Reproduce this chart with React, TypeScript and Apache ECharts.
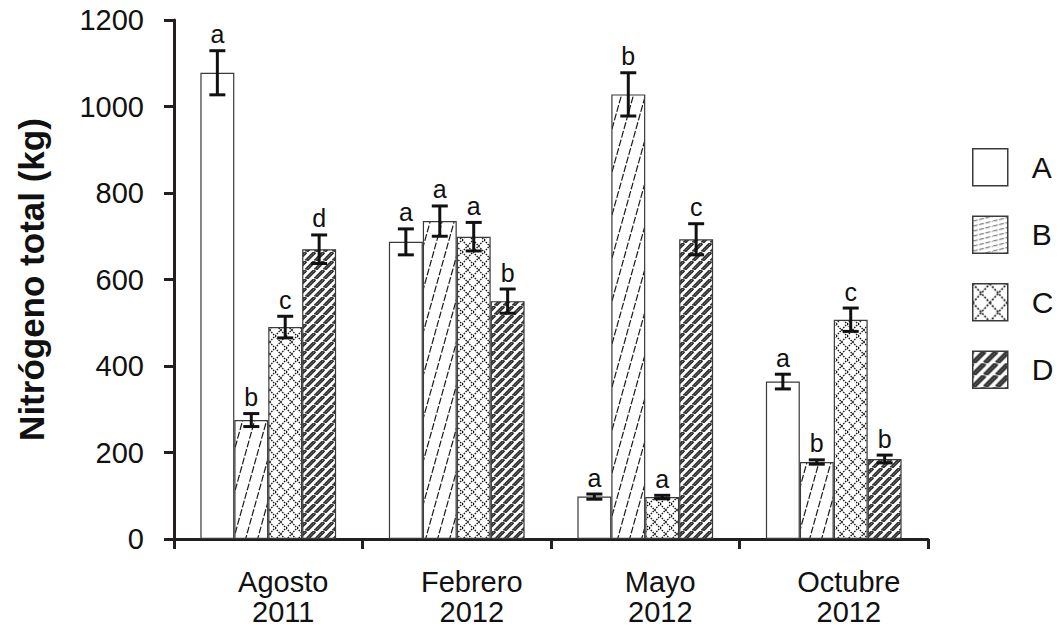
import React, { useEffect, useRef } from 'react';
import * as echarts from 'echarts';

// ---------- data ----------
const months = ['Agosto', 'Febrero', 'Mayo', 'Octubre'];
const years = ['2011', '2012', '2012', '2012'];
const seriesNames = ['A', 'B', 'C', 'D'];

const valuesA = [1078, 687, 98, 364];
const valuesB = [275, 735, 1028, 178];
const valuesC = [490, 699, 97, 507];
const valuesD = [670, 550, 693, 185];

const errA = [51, 30, 6, 17];
const errB = [15, 35, 50, 5];
const errC = [25, 33, 4, 27];
const errD = [33, 28, 36, 9];

const lettersA = ['a', 'a', 'a', 'a'];
const lettersB = ['b', 'a', 'b', 'b'];
const lettersC = ['c', 'a', 'a', 'c'];
const lettersD = ['d', 'b', 'c', 'b'];

const yTicks = [0, 200, 400, 600, 800, 1000, 1200];

// ---------- styling ----------
const FONT = '"Liberation Sans", Arial, Helvetica, sans-serif';
const INK = '#231f20';
const CAT_GAP = 0.28;

function svgPattern(body: string, w: number, h: number) {
  const svg =
    `<svg xmlns='http://www.w3.org/2000/svg' width='${w}' height='${h}' viewBox='0 0 ${w} ${h}'>` +
    `<rect width='${w}' height='${h}' fill='white'/>` +
    body +
    `</svg>`;
  return {
    image: 'data:image/svg+xml;charset=utf-8,' + encodeURIComponent(svg),
    repeat: 'repeat',
    imageWidth: w,
    imageHeight: h,
  } as any;
}

// bar patterns
const patB = svgPattern(
  `<g stroke='#1a1a1a' stroke-width='1.2' stroke-dasharray='7 1.9' fill='none'>` +
    `<line x1='0' y1='43' x2='12' y2='0'/>` +
    `<line x1='-12' y1='43' x2='0' y2='0'/>` +
    `<line x1='12' y1='43' x2='24' y2='0'/>` +
    `</g>`,
  12,
  43
);
const patC = svgPattern(
  `<g stroke='#111' stroke-width='1.3' stroke-dasharray='1.6 1.1' fill='none'>` +
    `<line x1='0' y1='0' x2='11' y2='12'/>` +
    `<line x1='0' y1='12' x2='11' y2='0'/>` +
    `</g>`,
  11,
  12
);
const patD = svgPattern(
  `<g stroke='#333' stroke-width='3.6' fill='none'>` +
    `<line x1='0' y1='9' x2='9' y2='0'/>` +
    `<line x1='-9' y1='9' x2='0' y2='0'/>` +
    `<line x1='9' y1='9' x2='18' y2='0'/>` +
    `</g>` +
    `<g stroke='#a0a0a0' stroke-width='1' stroke-dasharray='1 1.6' fill='none'>` +
    `<line x1='0' y1='9' x2='9' y2='0'/>` +
    `</g>`,
  9,
  9
);

// legend patterns
const legB = svgPattern(
  `<g stroke='#444' stroke-width='0.9' stroke-dasharray='5 1.5' fill='none'>` +
    `<line x1='0' y1='5' x2='20' y2='0'/>` +
    `<line x1='-20' y1='5' x2='0' y2='0'/>` +
    `<line x1='20' y1='5' x2='40' y2='0'/>` +
    `</g>`,
  20,
  5
);
const legC = svgPattern(
  `<g stroke='#111' stroke-width='1.6' stroke-dasharray='2 1.5' fill='none'>` +
    `<line x1='0' y1='0' x2='17' y2='19'/>` +
    `<line x1='0' y1='19' x2='17' y2='0'/>` +
    `</g>`,
  17,
  19
);
const legD = svgPattern(
  `<g stroke='#333' stroke-width='5' fill='none'>` +
    `<line x1='0' y1='12' x2='12' y2='0'/>` +
    `<line x1='-12' y1='12' x2='0' y2='0'/>` +
    `<line x1='12' y1='12' x2='24' y2='0'/>` +
    `</g>` +
    `<g stroke='#a0a0a0' stroke-width='1' stroke-dasharray='1 1.6' fill='none'>` +
    `<line x1='0' y1='12' x2='12' y2='0'/>` +
    `</g>`,
  12,
  12
);

const barColors = ['#ffffff', patB, patC, patD];
const legendColors = ['#ffffff', legB, legC, legD];

export default function App() {
  const ref = useRef<HTMLDivElement>(null);

  useEffect(() => {
    if (!ref.current) return;
    const chart = echarts.init(ref.current, undefined, { renderer: 'svg' });

    const categories = months.map((m, i) => m + '\n' + years[i]);
    const values = [valuesA, valuesB, valuesC, valuesD];
    const errs = [errA, errB, errC, errD];
    const letters = [lettersA, lettersB, lettersC, lettersD];

    const errData: number[][] = [];
    const errLetters: string[] = [];
    for (let k = 0; k < 4; k++) {
      for (let c = 0; c < categories.length; c++) {
        errData.push([c, values[k][c], errs[k][c], k]);
        errLetters.push(letters[k][c]);
      }
    }

    const barSeries = seriesNames.map((name, k) => ({
      name,
      type: 'bar',
      data: values[k],
      barGap: '0%',
      barCategoryGap: CAT_GAP * 100 + '%',
      itemStyle: {
        color: barColors[k],
        borderColor: '#3a3a3a',
        borderWidth: 1.2,
      },
      z: 2,
    }));

    const option: any = {
      animation: false,
      backgroundColor: '#ffffff',
      grid: { left: 174, right: 136, top: 20, bottom: 89, containLabel: false },
      legend: {
        orient: 'vertical',
        left: 972,
        top: 148,
        padding: 0,
        itemWidth: 35,
        itemHeight: 37,
        itemGap: 29,
        icon: 'rect',
        selectedMode: false,
        textStyle: {
          fontFamily: FONT,
          fontSize: 30,
          color: '#111',
          padding: [0, 0, 0, 19],
        },
        data: seriesNames.map((n, k) => ({
          name: n,
          itemStyle: { color: legendColors[k], borderColor: '#3a3a3a', borderWidth: 1.5 },
        })),
      },
      xAxis: {
        type: 'category',
        data: categories,
        axisLine: { show: true, lineStyle: { color: INK, width: 3 } },
        axisTick: { show: true, length: 10, lineStyle: { color: INK, width: 3 } },
        axisLabel: {
          fontFamily: FONT,
          fontSize: 29,
          color: '#111',
          lineHeight: 30,
          margin: 28,
          padding: [0, 0, 0, 30],
        },
        splitLine: { show: false },
      },
      yAxis: {
        type: 'value',
        min: yTicks[0],
        max: yTicks[yTicks.length - 1],
        interval: yTicks[1] - yTicks[0],
        name: 'Nitrógeno total (kg)',
        nameLocation: 'middle',
        nameRotate: 90,
        nameGap: 125,
        nameTextStyle: {
          fontFamily: FONT,
          fontSize: 35,
          fontWeight: 'bold',
          color: '#111',
        },
        axisLine: { show: true, lineStyle: { color: INK, width: 3 } },
        axisTick: { show: true, length: 10, lineStyle: { color: INK, width: 3 } },
        axisLabel: {
          fontFamily: FONT,
          fontSize: 29,
          color: '#111',
          margin: 30,
          formatter: (v: number) => String(v),
        },
        splitLine: { show: false },
      },
      series: [
        ...barSeries,
        {
          name: 'err',
          type: 'custom',
          data: errData,
          encode: { x: 0, y: 1 },
          z: 5,
          silent: true,
          renderItem: (params: any, api: any) => {
            const cat = api.value(0) as number;
            const val = api.value(1) as number;
            const err = api.value(2) as number;
            const k = api.value(3) as number;
            const catW = api.size([1, 0])[0];
            const barW = (catW * (1 - CAT_GAP)) / 4;
            const x = api.coord([cat, val])[0] + (k - 1.5) * barW;
            const yTop = api.coord([cat, val + err])[1];
            const yBot = api.coord([cat, val - err])[1];
            const cap = 8;
            const ls = { stroke: '#111', lineWidth: 3 };
            return {
              type: 'group',
              children: [
                { type: 'line', shape: { x1: x, y1: yTop, x2: x, y2: yBot }, style: ls },
                { type: 'line', shape: { x1: x - cap, y1: yTop, x2: x + cap, y2: yTop }, style: ls },
                { type: 'line', shape: { x1: x - cap, y1: yBot, x2: x + cap, y2: yBot }, style: ls },
                {
                  type: 'text',
                  x: x,
                  y: yTop - 4,
                  style: {
                    text: errLetters[params.dataIndex],
                    fill: '#111',
                    font: `25px ${FONT}`,
                    align: 'center',
                    verticalAlign: 'bottom',
                  },
                },
              ],
            };
          },
        },
      ],
    };

    chart.setOption(option);
    return () => chart.dispose();
  }, []);

  return (
    <div
      ref={ref}
      style={{ position: 'fixed', left: 0, top: 0, width: 1064, height: 628, background: '#fff' }}
    />
  );
}
